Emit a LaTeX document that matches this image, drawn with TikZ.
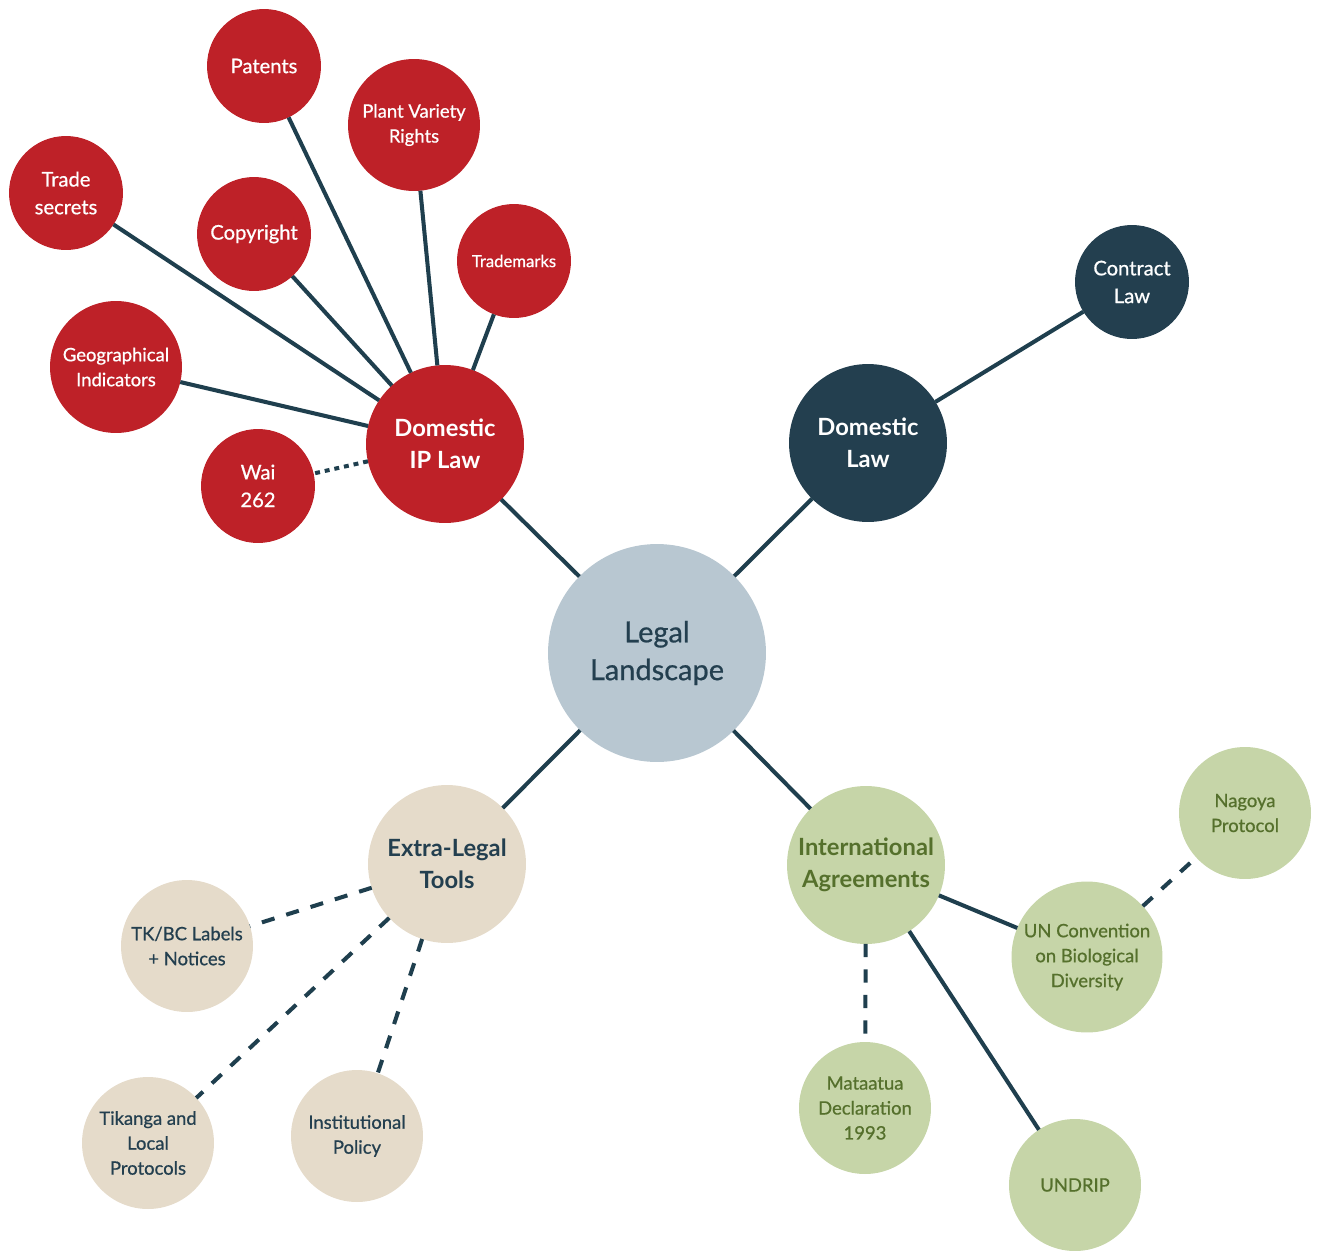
\documentclass[tikz,border=0pt]{standalone}
\usepackage{fontspec}
\setmainfont{Lato}[UprightFeatures={FakeBold=0.7}]
\usetikzlibrary{positioning}
\definecolor{iplaw}   {HTML}{BE2128}
\definecolor{domlaw}  {HTML}{233F4F}
\definecolor{hubfill} {HTML}{B8C7D1}
\definecolor{tools}   {HTML}{E5DBCA}
\definecolor{intl}    {HTML}{C6D5A8}
\definecolor{intltext}{HTML}{55702C}
\definecolor{wire}    {HTML}{1F3F4E}

\begin{document}
\begin{tikzpicture}[
  x=0.02cm, y=-0.02cm,
  % every bubble is a plain filled circle; the size fixes the look, not the text
  bubble/.style={circle, inner sep=0pt, outer sep=0pt, align=center},
  hub/.style={bubble, minimum size=4.36cm, fill=hubfill, text=domlaw,
              font=\fontsize{16.5}{21.5}\selectfont},
  branch/.style={bubble, minimum size=3.16cm,
                 font=\bfseries\fontsize{13.5}{18}\selectfont},
  leaf/.style={bubble, minimum size=2.28cm, font=\fontsize{11.5}{15.8}\selectfont},
  bigleaf/.style={bubble, minimum size=2.64cm, font=\fontsize{10.5}{14.2}\selectfont},
  ipnode/.style={fill=iplaw, text=white},
  domnode/.style={fill=domlaw, text=white},
  toolnode/.style={fill=tools, text=domlaw},
  intlnode/.style={fill=intl, text=intltext},
  link/.style={draw=wire, line width=2.3pt},
  dashlink/.style={link, dash pattern=on 7.5pt off 7pt},
  dotlink/.style={link, dash pattern=on 2.8pt off 2.8pt}
]
\useasboundingbox (0,0) rectangle (1319,1251);

% --- hub and the four branches ------------------------------------------------
\node[hub] (land) at (657,653) {Legal\\Landscape};
\node[branch, ipnode]   (ipl)  at (445,444) {Domestic\\IP Law};
\node[branch, domnode]  (dom)  at (868,443) {Domestic\\Law};
\node[branch, toolnode] (ext)  at (447,864) {Extra-Legal\\Tools};
\node[branch, intlnode] (intg) at (866,865) {International\\Agreements};

% --- domestic IP law ------------------------------------------------------------
\node[leaf, ipnode]    (pat)  at (264,66)  {Patents};
\node[bigleaf, ipnode] (pvr)  at (414,125) {Plant Variety\\Rights};
\node[leaf, ipnode]    (trs)  at (66,193)  {Trade\\secrets};
\node[leaf, ipnode]    (cpy)  at (254,234) {Copyright};
\node[leaf, ipnode, font=\fontsize{9.5}{12}\selectfont] (tmk) at (514,261) {Trademarks};
\node[bigleaf, ipnode] (geo)  at (116,367) {Geographical\\Indicators};
\node[leaf, ipnode]    (wai)  at (258,486) {Wai\\262};

% --- domestic law ----------------------------------------------------------------
\node[leaf, domnode] (con) at (1132,282) {Contract\\Law};

% --- extra-legal tools -----------------------------------------------------------
\node[bigleaf, toolnode] (tkbc) at (187,946)  {TK/BC Labels\\+ Notices};
\node[bigleaf, toolnode] (tik)  at (148,1143) {Tikanga and\\Local\\Protocols};
\node[bigleaf, toolnode] (inst) at (357,1136) {Institutional\\Policy};

% --- international agreements ----------------------------------------------------
\node[bigleaf, intlnode] (nag) at (1245,813)  {Nagoya\\Protocol};
\node[bigleaf, intlnode, minimum size=3.02cm] (cbd) at (1087,957)
  {UN Convention\\on Biological\\Diversity};
\node[bigleaf, intlnode] (mat) at (865,1108)  {Mataatua\\Declaration\\1993};
\node[bigleaf, intlnode] (und) at (1075,1185) {UNDRIP};

% --- connectors ------------------------------------------------------------------
\draw[link] (land) -- (ipl);
\draw[link] (land) -- (dom);
\draw[link] (land) -- (ext);
\draw[link] (land) -- (intg);

\foreach \leafname in {pat, pvr, trs, cpy, tmk, geo}
  \draw[link] (ipl) -- (\leafname);
\draw[dotlink] (ipl) -- (wai);

\draw[link] (dom) -- (con);

\foreach \leafname in {tkbc, tik, inst}
  \draw[dashlink] (ext) -- (\leafname);

\draw[link] (intg) -- (cbd);
\draw[link] (intg) -- (und);
\draw[dashlink] (intg) -- (mat);
\draw[dashlink] (cbd) -- (nag);

\end{tikzpicture}
\end{document}
